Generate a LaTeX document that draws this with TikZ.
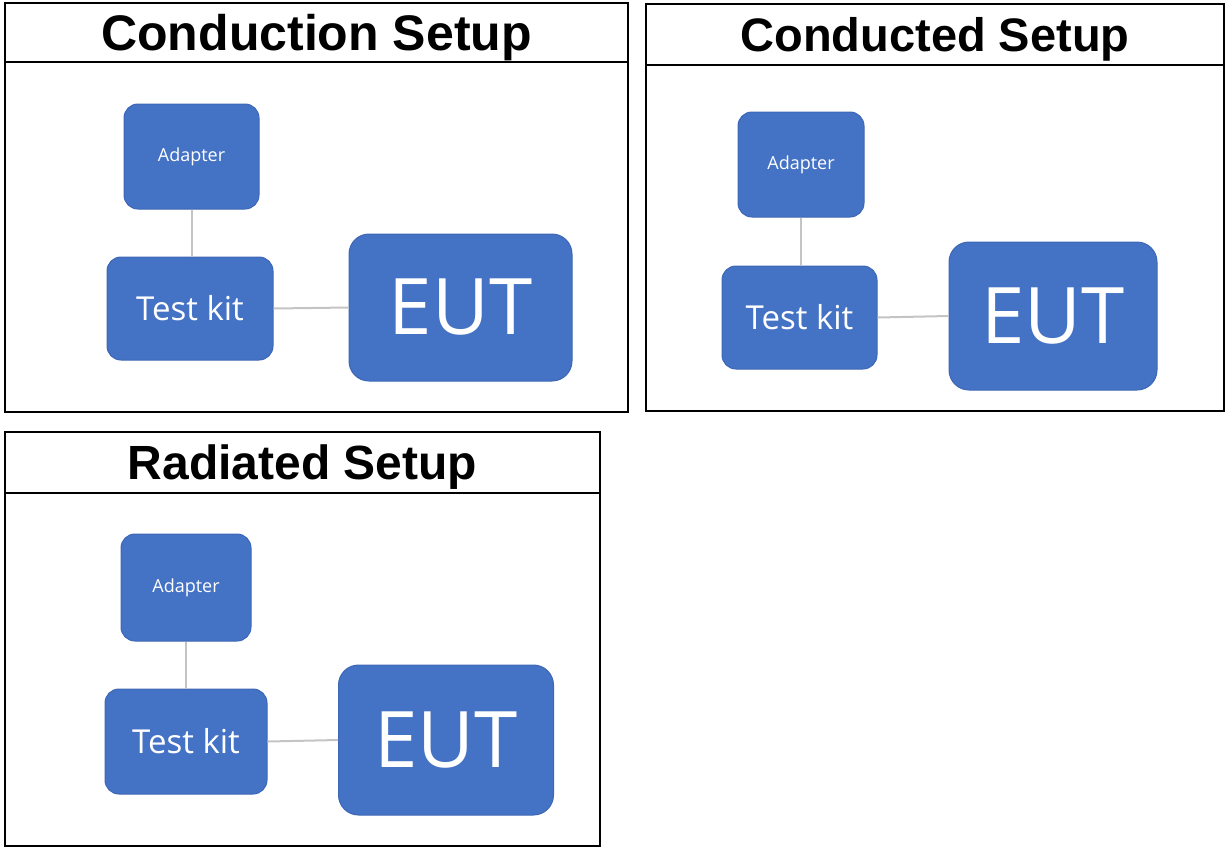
\documentclass[tikz,border=0pt]{standalone}
\usepackage{fontspec}
\setmainfont{Liberation Sans}
\newfontfamily\boxfont{Open Sans}
\usepackage{xcolor}
\usepackage{tikz}
\tikzset{>=latex}
\definecolor{boxblue}{HTML}{4472C4}
\definecolor{boxedge}{HTML}{3D67B6}
\definecolor{wiregray}{HTML}{C4C4C4}

\begin{document}
\begin{tikzpicture}[x=1pt,y=-1pt]
    % Define node styles
    \tikzstyle{blk} = [rectangle, rounded corners=14pt, fill=boxblue, draw=boxedge, line width=1pt, text=white, inner sep=0pt]
    \tikzstyle{adbox} = [blk, font={\boxfont\fontsize{18}{21}\selectfont}]
    \tikzstyle{kitbox} = [blk, font={\boxfont\fontsize{33}{40}\selectfont}]
    \tikzstyle{eutbox} = [blk, rounded corners=20pt, font={\boxfont\fontsize{78}{88}\selectfont}]
    \tikzstyle{titleband} = [rectangle, draw=black, anchor=north west, inner sep=0pt, outer sep=0pt, text depth=0pt]
    \tikzstyle{bodyband} = [rectangle, draw=black, anchor=north west, inner sep=0pt, outer sep=0pt]
    \tikzstyle{link} = [draw=wiregray, line width=2pt]

    \useasboundingbox (0,0) rectangle (1225,847);

    % First panel
    \node[titleband, line width=2.5pt, minimum width=623pt, minimum height=59pt, font={\fontsize{50}{58}\selectfont\bfseries}] (title1) at (5,3) {Conduction Setup};
    \node[bodyband, line width=2.5pt, minimum width=623pt, minimum height=350pt] (body1) at (title1.south west) {};

    \node[adbox, minimum width=135pt, minimum height=105pt] (adapter1) at (191.5,156.5) {Adapter};
    \node[kitbox, minimum width=166pt, minimum height=103pt] (kit1) at (190,308.5) {Test kit};
    \node[eutbox, minimum width=223pt, minimum height=147pt] (eut1) at (460.5,307.5) {EUT};

    \draw[link] (adapter1.south) -- (adapter1.south |- kit1.north);
    \draw[link] (kit1.east) -- (eut1.west);

    % Second panel
    \node[titleband, line width=1.5pt, minimum width=578pt, minimum height=61pt, font={\fontsize{47}{55}\selectfont\bfseries}] (title2) at (646,4) {Conducted Setup};
    \node[bodyband, line width=1.5pt, minimum width=578pt, minimum height=346pt] (body2) at (title2.south west) {};

    \node[adbox, minimum width=126pt, minimum height=105pt] (adapter2) at (801,164.5) {Adapter};
    \node[kitbox, minimum width=155pt, minimum height=103pt] (kit2) at (799.5,317.5) {Test kit};
    \node[eutbox, minimum width=208pt, minimum height=148pt] (eut2) at (1053,316) {EUT};

    \draw[link] (adapter2.south) -- (adapter2.south |- kit2.north);
    \draw[link] (kit2.east) -- (eut2.west);

    % Third panel
    \node[titleband, line width=1.5pt, minimum width=595pt, minimum height=61pt, font={\fontsize{48}{56}\selectfont\bfseries}] (title3) at (5,432) {Radiated Setup};
    \node[bodyband, line width=1.5pt, minimum width=595pt, minimum height=353pt] (body3) at (title3.south west) {};

    \node[adbox, minimum width=130pt, minimum height=107pt] (adapter3) at (186,587.5) {Adapter};
    \node[kitbox, minimum width=162pt, minimum height=105pt] (kit3) at (186,741.5) {Test kit};
    \node[eutbox, minimum width=215pt, minimum height=150pt] (eut3) at (446,740) {EUT};

    \draw[link] (adapter3.south) -- (adapter3.south |- kit3.north);
    \draw[link] (kit3.east) -- (eut3.west);

\end{tikzpicture}
\end{document}
